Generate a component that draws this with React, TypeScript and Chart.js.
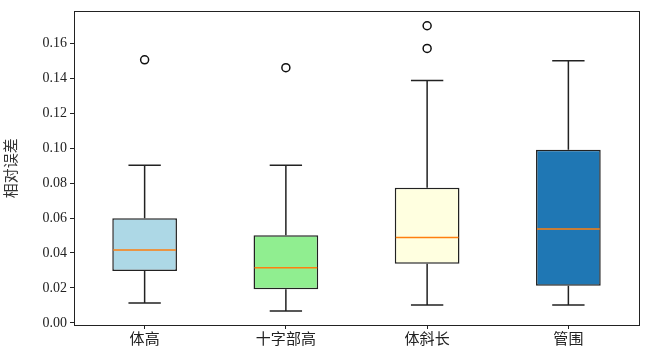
import React, { useEffect, useRef } from "react";
import { Chart, registerables } from "chart.js";

Chart.register(...registerables);

const categories = ["体高", "十字部高", "体斜长", "管围"];
const whiskerLow = [0.0114, 0.0068, 0.0103, 0.0103];
const q1 = [0.0297, 0.0192, 0.0339, 0.0213];
const medians = [0.0417, 0.0316, 0.0489, 0.0537];
const q3 = [0.0598, 0.0501, 0.0773, 0.0991];
const whiskerHigh = [0.0902, 0.0902, 0.1387, 0.15];
const outliersA = [0.1505, 0.146, 0.17, null];
const outliersB = [null, null, 0.157, null];
const boxColors = ["#add8e6", "#90ee90", "#ffffe0", "#1f77b4"];
const yTicks = [0, 0.02, 0.04, 0.06, 0.08, 0.1, 0.12, 0.14, 0.16];
const yLabel = "相对误差";

const FONT = "'Liberation Serif', 'Noto Sans CJK SC', serif";

const boxPlugin = {
  id: "boxExtras",
  beforeDatasetsDraw(chart: any) {
    const { ctx } = chart;
    const y = chart.scales.y;
    const meta = chart.getDatasetMeta(0);
    ctx.save();
    ctx.strokeStyle = "#222";
    ctx.lineWidth = 1.5;
    meta.data.forEach((bar: any, i: number) => {
      const cx = bar.x;
      const cap = bar.width / 4;
      const yl = y.getPixelForValue(whiskerLow[i]);
      const yh = y.getPixelForValue(whiskerHigh[i]);
      const y1 = y.getPixelForValue(q1[i]);
      const y3 = y.getPixelForValue(q3[i]);
      ctx.beginPath();
      ctx.moveTo(cx, y1);
      ctx.lineTo(cx, yl);
      ctx.moveTo(cx - cap, yl);
      ctx.lineTo(cx + cap, yl);
      ctx.moveTo(cx, y3);
      ctx.lineTo(cx, yh);
      ctx.moveTo(cx - cap, yh);
      ctx.lineTo(cx + cap, yh);
      ctx.stroke();
    });
    ctx.restore();
  },
  afterDatasetsDraw(chart: any) {
    const { ctx, chartArea } = chart;
    const y = chart.scales.y;
    const meta = chart.getDatasetMeta(0);
    ctx.save();
    ctx.strokeStyle = "#ff7f0e";
    ctx.lineWidth = 1.5;
    meta.data.forEach((bar: any, i: number) => {
      const half = bar.width / 2;
      const ym = y.getPixelForValue(medians[i]);
      ctx.beginPath();
      ctx.moveTo(bar.x - half + 1, ym);
      ctx.lineTo(bar.x + half - 1, ym);
      ctx.stroke();
    });
    ctx.strokeStyle = "#222";
    ctx.lineWidth = 1;
    ctx.strokeRect(
      Math.round(chartArea.left) + 0.5,
      Math.round(chartArea.top) + 0.5,
      Math.round(chartArea.right - chartArea.left),
      Math.round(chartArea.bottom - chartArea.top)
    );
    ctx.restore();
  },
};

export default function App() {
  const ref = useRef<HTMLCanvasElement>(null);
  useEffect(() => {
    if (!ref.current) return;
    const chart = new Chart(ref.current, {
      type: "bar",
      data: {
        labels: categories,
        datasets: [
          {
            type: "bar",
            data: q1.map((v, i) => [v, q3[i]]) as any,
            backgroundColor: boxColors,
            borderColor: "#222",
            borderWidth: 1.5,
            borderSkipped: false,
            barPercentage: 0.458,
            categoryPercentage: 1,
          } as any,
          {
            type: "line",
            data: outliersA as any,
            showLine: false,
            pointRadius: 4,
            pointBorderWidth: 1.5,
            pointBorderColor: "#111",
            pointBackgroundColor: "rgba(0,0,0,0)",
          } as any,
          {
            type: "line",
            data: outliersB as any,
            showLine: false,
            pointRadius: 4,
            pointBorderWidth: 1.5,
            pointBorderColor: "#111",
            pointBackgroundColor: "rgba(0,0,0,0)",
          } as any,
        ],
      },
      options: {
        responsive: false,
        animation: false,
        layout: { padding: { top: 11, right: 11, left: 0, bottom: 0 } },
        plugins: { legend: { display: false }, tooltip: { enabled: false } },
        scales: {
          x: {
            offset: true,
            grid: { display: true, offset: false, drawOnChartArea: false, drawTicks: true, tickLength: 4, color: "#222" },
            border: { display: true, color: "#222", width: 1 },
            ticks: { color: "#222", font: { family: FONT, size: 15 }, padding: 2 },
            afterFit: (s: any) => {
              s.height = 29;
            },
          },
          y: {
            min: -0.0012,
            max: 0.1782,
            grid: { display: true, drawOnChartArea: false, drawTicks: true, tickLength: 4, color: "#222" },
            border: { display: true, color: "#222", width: 1 },
            afterBuildTicks: (s: any) => {
              s.ticks = yTicks.map((v) => ({ value: v }));
            },
            ticks: {
              color: "#222",
              font: { family: FONT, size: 14 },
              padding: 3,
              callback: (v: any) => Number(v).toFixed(2),
            },
            title: {
              display: true,
              text: yLabel,
              color: "#333",
              font: { family: FONT, size: 15 },
              padding: { top: 3, bottom: 4 },
            },
            afterFit: (s: any) => {
              s.width = 74;
            },
          },
        },
      },
      plugins: [boxPlugin],
    });
    return () => chart.destroy();
  }, []);
  return (
    <div style={{ position: "fixed", left: 0, top: 0, width: 650, height: 354, background: "#fff" }}>
      <canvas ref={ref} width={650} height={354} />
    </div>
  );
}
